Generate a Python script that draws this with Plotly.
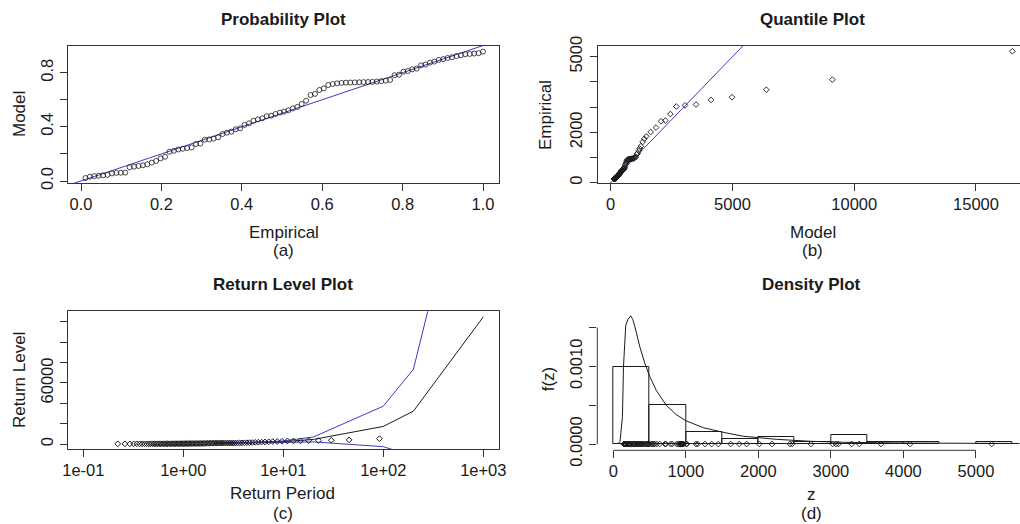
import plotly.graph_objects as go

# ---------------------------------------------------------------------------
# Fitted-model diagnostics (n = 91 observations)
# ---------------------------------------------------------------------------

# Probability plot: empirical vs model non-exceedance probabilities
prob_empirical = [
    0.011, 0.022, 0.033, 0.044, 0.055, 0.066, 0.077, 0.088, 0.099, 0.110,
    0.121, 0.132, 0.143, 0.154, 0.165, 0.176, 0.187, 0.198, 0.209, 0.220,
    0.231, 0.242, 0.253, 0.264, 0.275, 0.286, 0.297, 0.308, 0.319, 0.330,
    0.341, 0.352, 0.363, 0.374, 0.385, 0.396, 0.407, 0.418, 0.429, 0.440,
    0.451, 0.462, 0.473, 0.484, 0.495, 0.505, 0.516, 0.527, 0.538, 0.549,
    0.560, 0.571, 0.582, 0.593, 0.604, 0.615, 0.626, 0.637, 0.648, 0.659,
    0.670, 0.681, 0.692, 0.703, 0.714, 0.725, 0.736, 0.747, 0.758, 0.769,
    0.780, 0.791, 0.802, 0.813, 0.824, 0.835, 0.846, 0.857, 0.868, 0.879,
    0.890, 0.901, 0.912, 0.923, 0.934, 0.945, 0.956, 0.967, 0.978, 0.989,
    1.000,
]
prob_model = [
    0.022, 0.032, 0.036, 0.039, 0.042, 0.045, 0.056, 0.060, 0.061, 0.062,
    0.101, 0.106, 0.111, 0.116, 0.123, 0.136, 0.148, 0.167, 0.179, 0.216,
    0.223, 0.233, 0.238, 0.243, 0.248, 0.273, 0.276, 0.305, 0.307, 0.313,
    0.323, 0.347, 0.357, 0.364, 0.382, 0.389, 0.414, 0.426, 0.445, 0.455,
    0.463, 0.478, 0.482, 0.495, 0.505, 0.512, 0.522, 0.536, 0.547, 0.569,
    0.593, 0.635, 0.643, 0.672, 0.684, 0.709, 0.716, 0.721, 0.724, 0.726,
    0.727, 0.728, 0.729, 0.730, 0.731, 0.732, 0.734, 0.737, 0.741, 0.746,
    0.781, 0.785, 0.807, 0.812, 0.825, 0.830, 0.854, 0.860, 0.874, 0.882,
    0.894, 0.900, 0.908, 0.914, 0.923, 0.928, 0.936, 0.938, 0.941, 0.944,
    0.955,
]

# Observed values (sorted) and the matching model quantiles
z_sorted = [
    145, 153, 156, 158, 161, 163, 172, 175, 175, 176,
    200, 204, 207, 210, 214, 222, 230, 241, 249, 271,
    276, 282, 286, 289, 292, 309, 312, 333, 334, 339,
    346, 363, 371, 377, 393, 399, 421, 431, 451, 461,
    470, 485, 489, 494, 498, 525, 538, 556, 570, 598,
    640, 712, 725, 790, 815, 875, 897, 913, 922, 928,
    934, 939, 944, 949, 953, 957, 962, 968, 1005, 1015,
    1140, 1163, 1264, 1356, 1448, 1618, 1737, 1838, 2013, 2188,
    2436, 2468, 2725, 3024, 3070, 3102, 3286, 3392, 3690, 4090,
    5216,
]
quant_model = [
    132, 145, 153, 162, 171, 178, 185, 192, 199, 205,
    212, 219, 226, 232, 239, 245, 252, 259, 265, 272,
    279, 286, 293, 301, 309, 317, 324, 332, 340, 348,
    356, 364, 373, 382, 392, 401, 411, 420, 430, 440,
    452, 463, 474, 486, 497, 510, 524, 538, 552, 565,
    579, 593, 612, 630, 648, 667, 685, 703, 721, 743,
    768, 793, 818, 843, 868, 901, 933, 965, 990, 1030,
    1070, 1110, 1150, 1190, 1240, 1310, 1380, 1460, 1640, 1860,
    2067, 2245, 2450, 2696, 3052, 3504, 4119, 4982, 6391, 9101,
    16492,
]

# Return level plot: empirical return periods of the sorted observations
rl_point_period = [
    0.221, 0.261, 0.292, 0.319, 0.343, 0.366, 0.388, 0.409, 0.430, 0.451,
    0.471, 0.491, 0.511, 0.531, 0.551, 0.572, 0.592, 0.613, 0.634, 0.655,
    0.677, 0.699, 0.721, 0.744, 0.768, 0.791, 0.816, 0.841, 0.866, 0.892,
    0.919, 0.947, 0.975, 1.005, 1.035, 1.066, 1.098, 1.131, 1.165, 1.201,
    1.237, 1.275, 1.315, 1.356, 1.398, 1.443, 1.489, 1.537, 1.587, 1.640,
    1.695, 1.753, 1.813, 1.877, 1.944, 2.015, 2.089, 2.167, 2.251, 2.339,
    2.434, 2.534, 2.641, 2.756, 2.879, 3.011, 3.154, 3.308, 3.476, 3.659,
    3.860, 4.080, 4.323, 4.594, 4.895, 5.233, 5.618, 6.057, 6.562, 7.155,
    7.853, 8.690, 9.713, 10.99, 12.64, 14.83, 17.90, 22.50, 30.16, 45.50,
    91.50,
]
# Model return levels with confidence bounds
rl_period = [2, 5, 10, 20, 100, 200, 1000]
rl_level = [650, 1300, 2300, 4500, 17300, 32300, 125000]
rl_upper = [750, 1600, 3000, 6900, 37200, 73500, 351000]
rl_lower = [550, 1000, 1600, 2100, -2600, -12000, -101000]

# Density plot: fitted density curve
dens_z = [60, 92, 126, 140, 172, 200, 240, 270, 298, 366, 434, 502, 593,
          729, 864, 1000, 1241, 1517, 1792, 2252, 2712, 3171, 4090, 5600]
dens_f = [0.0, 0.00003, 0.00035, 0.00099, 0.00153, 0.00160, 0.00165,
          0.00160, 0.00151, 0.00125, 0.00104, 0.00087, 0.00069, 0.00050,
          0.00038, 0.00030, 0.00021, 0.00015, 0.00010, 0.00006, 0.000035,
          0.000022, 0.000012, 0.000007]
hist_start, hist_end, hist_width = 0, 5500, 500
rug_level = 0.0

# 1:1 reference lines
diag_prob = [-0.1, 1.1]
diag_quant = [-1000, 20000]

# Tick marks and labels
prob_x_ticks = [0.0, 0.2, 0.4, 0.6, 0.8, 1.0]
prob_x_text = ["0.0", "0.2", "0.4", "0.6", "0.8", "1.0"]
prob_y_ticks = [0.0, 0.2, 0.4, 0.6, 0.8]
prob_y_text = ["0.0", "", "0.4", "", "0.8"]
quant_x_ticks = [0, 5000, 10000, 15000]
quant_x_text = ["0", "5000", "10000", "15000"]
quant_y_ticks = [0, 1000, 2000, 3000, 4000, 5000]
quant_y_text = ["0", "", "2000", "", "", "5000"]
rl_x_ticks = [0.1, 1, 10, 100, 1000]
rl_x_text = ["1e-01", "1e+00", "1e+01", "1e+02", "1e+03"]
rl_y_ticks = [0, 20000, 40000, 60000, 80000, 100000, 120000]
rl_y_text = ["0", "", "", "60000", "", "", ""]
dens_x_ticks = [0, 1000, 2000, 3000, 4000, 5000]
dens_x_text = ["0", "1000", "2000", "3000", "4000", "5000"]
dens_y_ticks = [0.0, 0.0005, 0.0010, 0.0015]
dens_y_text = ["0.0000", "", "0.0010", ""]

# ---------------------------------------------------------------------------
W, H = 1020, 524
FONT = "Liberation Sans, Arial, sans-serif"
INK = "#1a1a1a"
LINE = "#333333"
BLUE = "#3a3ac8"


def px(x, y):
    """Pixel position -> paper coordinates."""
    return x / W, 1 - y / H


fig = go.Figure()

# (a) probability plot
fig.add_trace(go.Scatter(x=diag_prob, y=diag_prob, mode="lines",
                         line=dict(color=BLUE, width=1), xaxis="x", yaxis="y"))
fig.add_trace(go.Scatter(x=prob_empirical, y=prob_model, mode="markers",
                         marker=dict(symbol="circle-open", size=5, color=INK,
                                     line=dict(width=0.8)),
                         xaxis="x", yaxis="y"))

# (b) quantile plot
fig.add_trace(go.Scatter(x=diag_quant, y=diag_quant, mode="lines",
                         line=dict(color=BLUE, width=1), xaxis="x2", yaxis="y2"))
fig.add_trace(go.Scatter(x=quant_model, y=z_sorted, mode="markers",
                         marker=dict(symbol="diamond-open", size=4.4, color=INK,
                                     line=dict(width=0.9)),
                         xaxis="x2", yaxis="y2"))

# (c) return level plot
fig.add_trace(go.Scatter(x=rl_period, y=rl_level, mode="lines",
                         line=dict(color=INK, width=1), xaxis="x3", yaxis="y3"))
fig.add_trace(go.Scatter(x=rl_period, y=rl_upper, mode="lines",
                         line=dict(color=BLUE, width=1), xaxis="x3", yaxis="y3"))
fig.add_trace(go.Scatter(x=rl_period, y=rl_lower, mode="lines",
                         line=dict(color=BLUE, width=1), xaxis="x3", yaxis="y3"))
fig.add_trace(go.Scatter(x=rl_point_period, y=z_sorted, mode="markers",
                         marker=dict(symbol="diamond-open", size=4.4, color=INK,
                                     line=dict(width=1)),
                         xaxis="x3", yaxis="y3"))

# (d) density plot
fig.add_trace(go.Histogram(x=z_sorted, histnorm="probability density",
                           autobinx=False,
                           xbins=dict(start=hist_start, end=hist_end, size=hist_width),
                           marker=dict(color="rgba(0,0,0,0)",
                                       line=dict(color=INK, width=1)),
                           xaxis="x4", yaxis="y4"))
fig.add_trace(go.Scatter(x=dens_z, y=dens_f, mode="lines",
                         line=dict(color=INK, width=1), xaxis="x4", yaxis="y4"))
fig.add_trace(go.Scatter(x=z_sorted, y=[rug_level] * len(z_sorted), mode="markers",
                         marker=dict(symbol="diamond-open", size=4.4, color=INK,
                                     line=dict(width=0.9)),
                         xaxis="x4", yaxis="y4"))


def axis(domain, rng, ticks, text, boxed=True, angle=0, kind="linear", anchor=None,
         standoff=-1):
    return dict(domain=domain, range=rng, type=kind, tickmode="array",
                tickvals=ticks, ticktext=text, automargin=False,
                ticks="outside", ticklen=7, tickwidth=1, tickcolor=LINE,
                showgrid=False, zeroline=False, showline=boxed, mirror=boxed,
                linecolor=LINE, linewidth=1, tickangle=angle,
                tickfont=dict(family=FONT, size=16.5, color=INK),
                ticklabelstandoff=standoff, anchor=anchor)


top_y = [1 - 183.3 / H, 1 - 45.7 / H]
bot_y_c = [1 - 449.3 / H, 1 - 311.3 / H]
bot_y_d = [1 - 450.3 / H, 1 - 312.0 / H]
left_x = [68.3 / W, 499.0 / W]

fig.update_layout(
    width=W, height=H, autosize=False, showlegend=False,
    margin=dict(l=0, r=0, t=0, b=0, pad=0),
    paper_bgcolor="white", plot_bgcolor="white", bargap=0,
    xaxis=axis(left_x, [-0.0316, 1.0398], prob_x_ticks, prob_x_text, anchor="y"),
    yaxis=axis(top_y, [-0.017, 0.999], prob_y_ticks, prob_y_text, angle=-90,
               anchor="x", standoff=1),
    xaxis2=axis([597.7 / W, 1.0], [-534, 16807], quant_x_ticks, quant_x_text, anchor="y2"),
    yaxis2=axis(top_y, [-24, 5437], quant_y_ticks, quant_y_text, angle=-90,
                anchor="x2", standoff=1),
    xaxis3=axis(left_x, [-1.15, 3.157], rl_x_ticks, rl_x_text, kind="log", anchor="y3"),
    yaxis3=axis(bot_y_c, [-5200, 130500], rl_y_ticks, rl_y_text, angle=-90,
                anchor="x3", standoff=1),
    xaxis4=axis([597.3 / W, 1.0], [-220.6, 5607], dens_x_ticks, dens_x_text,
                boxed=False, anchor="y4"),
    yaxis4=axis(bot_y_d, [-0.0000811, 0.001699], dens_y_ticks, dens_y_text,
                boxed=False, angle=-90, anchor="x4", standoff=1),
)

# Axis lines of the density panel span only the tick range
fig.add_shape(type="line", xref="x4", yref="y4 domain", x0=dens_x_ticks[0],
              x1=dens_x_ticks[-1], y0=0, y1=0, line=dict(color=LINE, width=1))
fig.add_shape(type="line", xref="x4 domain", yref="y4", x0=0, x1=0,
              y0=dens_y_ticks[0], y1=dens_y_ticks[-1], line=dict(color=LINE, width=1))

labels = [
    ("<b>Probability Plot</b>", 283.5, 20, 0),
    ("<b>Quantile Plot</b>", 812.7, 20, 0),
    ("<b>Return Level Plot</b>", 282.7, 284.7, 0),
    ("<b>Density Plot</b>", 811.7, 284.7, 0),
    ("Empirical", 283.5, 232.3, 0),
    ("(a)", 283.5, 250.7, 0),
    ("Model", 812.7, 232.3, 0),
    ("(b)", 812.7, 250.7, 0),
    ("Return Period", 282.7, 493, 0),
    ("(c)", 282.7, 513.5, 0),
    ("z", 811.7, 494, 0),
    ("(d)", 811.7, 513.5, 0),
    ("Model", 20, 114, -90),
    ("Empirical", 546, 115, -90),
    ("Return Level", 19, 380, -90),
    ("f(z)", 548.3, 379, -90),
]
for text, x, y, ang in labels:
    ax, ay = px(x, y)
    fig.add_annotation(text=text, x=ax, y=ay, xref="paper", yref="paper",
                       xanchor="center", yanchor="middle", showarrow=False,
                       borderpad=0, textangle=ang,
                       font=dict(family=FONT, size=17, color=INK))

fig.write_html("out.html")
